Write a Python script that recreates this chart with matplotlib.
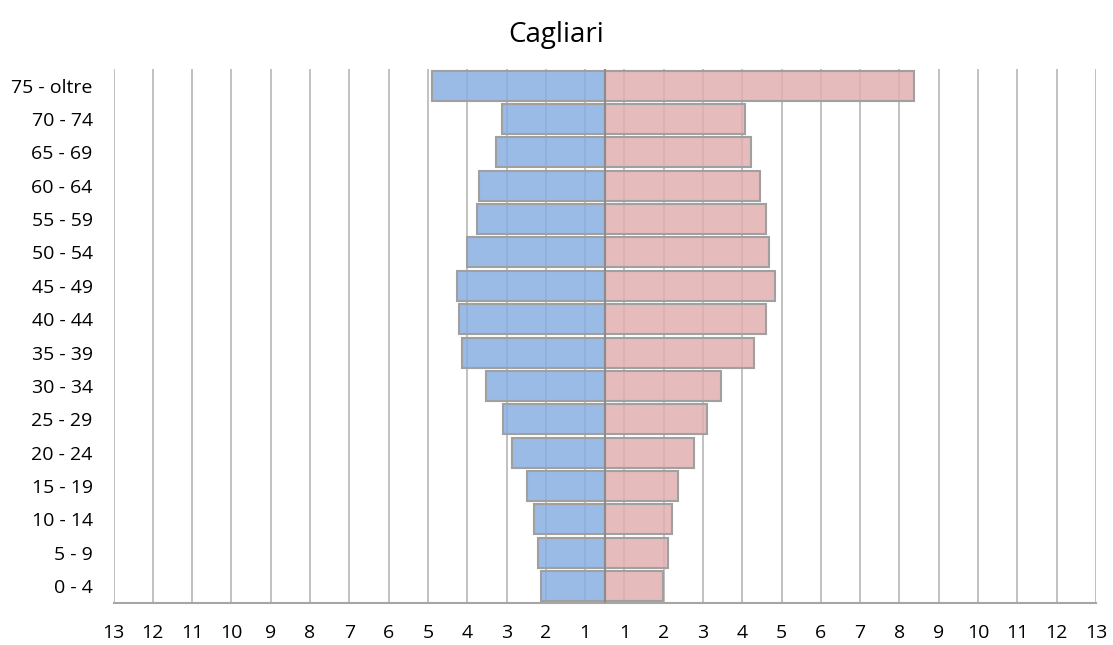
import matplotlib.pyplot as plt

# age groups, bottom to top
ages = ["0 - 4", "5 - 9", "10 - 14", "15 - 19", "20 - 24", "25 - 29", "30 - 34",
        "35 - 39", "40 - 44", "45 - 49", "50 - 54", "55 - 59", "60 - 64",
        "65 - 69", "70 - 74", "75 - oltre"]

# bar lengths measured from the centre line
males = [1.61, 1.69, 1.79, 1.99, 2.37, 2.59, 3.01, 3.64, 3.71, 3.77, 3.50,
         3.24, 3.20, 2.77, 2.61, 4.40]
females = [1.49, 1.62, 1.71, 1.87, 2.26, 2.59, 2.97, 3.79, 4.10, 4.34, 4.18,
           4.10, 3.94, 3.71, 3.58, 7.86]

tick_labels = [str(k) for k in range(1, 14)]

plt.rcParams['font.family'] = ['Open Sans', 'DejaVu Sans']

fig = plt.figure(figsize=(11.13, 6.45), dpi=100)
ax = fig.add_axes([0.102, 0.0656, 0.8827, 0.8274])

y = range(len(ages))
edge = "#a0a0a0"
ax.barh(y, [-m for m in males], height=0.9, color=(0.53, 0.686, 0.886, 0.85),
        edgecolor=edge, linewidth=1.5, zorder=2)
ax.barh(y, females, height=0.9, color=(0.886, 0.686, 0.694, 0.85),
        edgecolor=edge, linewidth=1.5, zorder=2)
ax.axvline(0, color="#8c8c8c", linewidth=1.5, zorder=3)

# ticks sit half a unit off the centre, labelled 1..13 each side
pos = [-(k - 0.5) for k in range(13, 0, -1)] + [k - 0.5 for k in range(1, 14)]
labs = tick_labels[::-1] + tick_labels
ax.set_xticks(pos)
ax.set_xticklabels(labs, fontsize=14)
ax.set_xlim(-12.5, 12.5)
ax.set_ylim(-0.5, len(ages) - 0.5)
ax.set_yticks(list(y))
ax.set_yticklabels(ages, fontsize=14)
ax.tick_params(axis='both', length=0)
ax.tick_params(axis='x', pad=15)
ax.tick_params(axis='y', pad=15)

ax.grid(axis='x', color="#bcbcbc", linewidth=1.3, zorder=1)
ax.set_axisbelow(True)
for s in ["top", "left", "right"]:
    ax.spines[s].set_visible(False)
ax.spines["bottom"].set_color("#a6a6a6")
ax.spines["bottom"].set_linewidth(1.5)

fig.suptitle("Cagliari", fontsize=20, y=0.968)

fig.savefig("out.png", dpi=100)
